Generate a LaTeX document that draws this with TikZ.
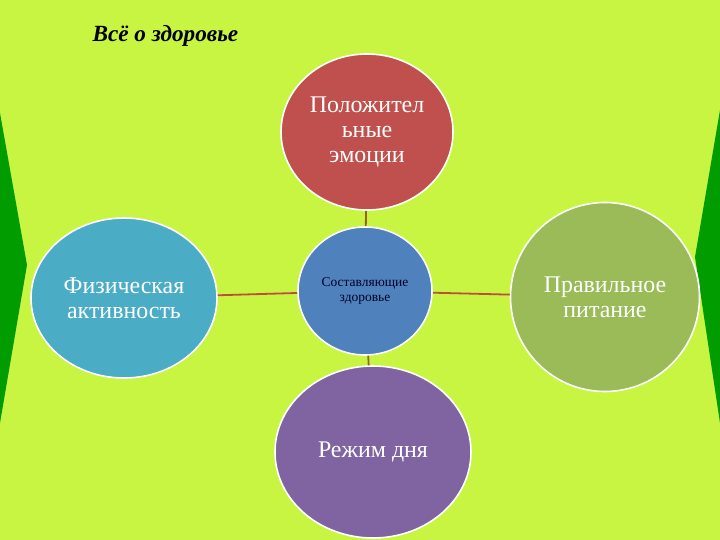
\documentclass[tikz,border=0pt]{standalone}
\usepackage{fontspec}
\setmainfont{Liberation Serif}
\usetikzlibrary{shapes.geometric}
\definecolor{bg}{RGB}{200,245,66}
\definecolor{wedge}{RGB}{0,156,0}
\definecolor{cred}{RGB}{192,80,77}
\definecolor{cblue}{RGB}{79,129,189}
\definecolor{cteal}{RGB}{75,172,198}
\definecolor{cgreen}{RGB}{155,187,89}
\definecolor{cpurple}{RGB}{128,100,162}
\definecolor{linkh}{RGB}{190,78,60}
\definecolor{linkv}{RGB}{150,100,30}
\begin{document}
\begin{tikzpicture}[x=1bp,y=-1bp,
  bubble/.style={ellipse,draw=white,line width=1.6bp,inner sep=0pt,align=center,text=white,
     font=\fontsize{24}{25}\selectfont},
  hub/.style={bubble,text=black!85!blue,font=\fontsize{13.5}{15}\selectfont},
  linkH/.style={draw=linkh,line width=1.8bp},
  linkV/.style={draw=linkv,line width=1.8bp}]
\fill[bg] (0,0) rectangle (720,540);
\useasboundingbox (0,0) rectangle (720,540);
\fill[wedge] (0,113) -- (27,265) -- (0,423) -- cycle;
\fill[wedge] (720,110) -- (695,257) -- (720,423) -- cycle;
\node[anchor=base west,font=\fontsize{23.3}{24}\selectfont\bfseries\itshape] (title) at (89,42) {Всё о здоровье};
\node[bubble,fill=cred,minimum width=172bp,minimum height=156bp] (emo) at (367,132) {Положител\\ьные\\эмоции};
\node[hub,fill=cblue,minimum width=134bp,minimum height=128bp] (ctr) at (365,291) {Составляющие\\здоровье};
\node[bubble,fill=cteal,minimum width=186bp,minimum height=160bp] (phys) at (124,298) {Физическая\\активность};
\node[bubble,fill=cgreen,minimum width=189bp,minimum height=189bp] (food) at (605,297) {Правильное\\питание};
\node[bubble,fill=cpurple,minimum width=196bp,minimum height=172bp] (day) at (373,452) {Режим дня};
\draw[linkH] (phys) -- (ctr);
\draw[linkH] (ctr) -- (food);
\draw[linkV] (emo) -- (ctr);
\draw[linkV] (ctr) -- (day);
\end{tikzpicture}
\end{document}
